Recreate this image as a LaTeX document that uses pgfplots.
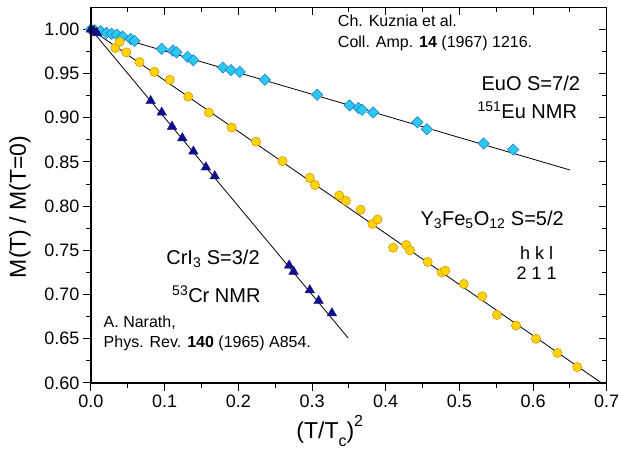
\documentclass[border=0pt]{standalone}
\usepackage{fontspec}
\setmainfont{Liberation Sans}
\usepackage{pgfplots}
\pgfplotsset{compat=1.18}
\definecolor{cyanfill}{RGB}{45,200,240}
\definecolor{cyanedge}{RGB}{20,120,200}
\definecolor{goldfill}{RGB}{255,212,0}
\definecolor{goldedge}{RGB}{215,140,0}
\definecolor{navyfill}{RGB}{15,15,135}
\newcommand{\tickfont}{\fontsize{18}{18}\selectfont}
\newcommand{\bigfont}{\fontsize{20}{20}\selectfont}
\newcommand{\reffont}{\fontsize{16}{16}\selectfont}
\newcommand{\labfont}{\fontsize{23}{23}\selectfont}
\begin{document}
\begin{tikzpicture}
\pgfplotsset{common/.style={
  width=515.7pt, height=375.7pt, scale only axis,
  xmin=0, xmax=0.7, ymin=0.6, ymax=1.025,
  xtick={0,0.1,0.2,0.3,0.4,0.5,0.6,0.7},
  ytick={0.6,0.65,0.7,0.75,0.8,0.85,0.9,0.95,1.0},
  minor x tick num=1, minor y tick num=1,
  major tick length=8pt, minor tick length=5pt,
  axis line style={line width=1.2pt},
  every tick/.style={black, line width=1pt},
  clip=false,
}}
\begin{axis}[common,
  xtick pos=bottom, ytick pos=left, tick align=outside,
  tick label style={font=\tickfont},
  /pgf/number format/assume math mode=true,
  xticklabel style={/pgf/number format/.cd, fixed, fixed zerofill, precision=1},
  yticklabel style={/pgf/number format/.cd, fixed, fixed zerofill, precision=2},
  xlabel={(T/T\raisebox{-0.35em}{\fontsize{16}{16}\selectfont c})\raisebox{0.55em}{\fontsize{16}{16}\selectfont 2}},
  ylabel={M(T) / M(T=0)},
  every axis x label/.style={at={(axis description cs:0.463,-0.128)}, anchor=center, font=\labfont},
  every axis y label/.style={at={(axis description cs:-0.138,0.469)}, anchor=center, rotate=90, font=\labfont},
]
% fitted lines
\addplot[black, line width=0.8pt] coordinates {(0,1.0) (0.65,0.841)};
\addplot[black, line width=0.8pt] coordinates {(0,1.0) (0.693,0.60)};
\addplot[black, line width=0.8pt] coordinates {(0,1.0) (0.349,0.651)};
% EuO
\addplot[only marks, mark=square*, mark size=4.0pt, mark options={rotate=45, fill=cyanfill, draw=cyanedge, line width=0.5pt}] coordinates {
(0.000,1.000) (0.005,0.999) (0.013,0.998) (0.021,0.996) (0.028,0.995) (0.035,0.994)
(0.043,0.992) (0.054,0.989) (0.059,0.987) (0.096,0.978) (0.111,0.976) (0.116,0.974)
(0.131,0.969) (0.139,0.965) (0.179,0.957) (0.190,0.954) (0.202,0.952) (0.236,0.943)
(0.307,0.926) (0.351,0.914) (0.363,0.911) (0.368,0.909) (0.383,0.906) (0.443,0.895)
(0.456,0.887) (0.533,0.871) (0.573,0.864)};
% YIG
\addplot[only marks, mark=*, mark size=4.6pt, mark options={fill=goldfill, draw=goldedge, line width=0.5pt}] coordinates {
(0.004,0.998) (0.033,0.979) (0.039,0.986) (0.048,0.974) (0.066,0.963) (0.086,0.952)
(0.107,0.943) (0.132,0.924) (0.160,0.906) (0.191,0.889) (0.224,0.873) (0.260,0.851)
(0.297,0.832) (0.304,0.824) (0.337,0.812) (0.346,0.806) (0.366,0.796) (0.382,0.780)
(0.389,0.785) (0.410,0.753) (0.428,0.756) (0.433,0.750) (0.457,0.737) (0.476,0.725)
(0.481,0.727) (0.506,0.712) (0.531,0.698) (0.551,0.677) (0.577,0.665) (0.604,0.650)
(0.633,0.634) (0.660,0.618)};
% CrI3
\addplot[only marks, mark=triangle*, mark size=5.5pt, mark options={fill=navyfill, draw=navyfill, line width=0.4pt}] coordinates {
(0.000,1.000) (0.004,0.998) (0.008,0.996) (0.081,0.919) (0.096,0.906) (0.110,0.890)
(0.124,0.877) (0.139,0.862) (0.156,0.844) (0.168,0.834) (0.269,0.733) (0.275,0.726)
(0.297,0.705) (0.309,0.693) (0.327,0.679)};
% annotations
\node[anchor=mid west, font=\reffont, inner sep=0pt] at (axis cs:0.335,1.006) {Ch. Kuznia et al.};
\node[anchor=mid west, font=\reffont, inner sep=0pt] at (axis cs:0.335,0.983) {Coll. Amp. \textbf{14} (1967) 1216.};
\node[anchor=mid east, font=\bigfont, inner sep=0pt] at (axis cs:0.664,0.934) {EuO S=7/2};
\node[anchor=mid east, font=\bigfont, inner sep=0pt] at (axis cs:0.660,0.902) {\textsuperscript{151}Eu NMR};
\node[anchor=mid west, font=\bigfont, inner sep=0pt] at (axis cs:0.447,0.781) {Y\textsubscript{3}Fe\textsubscript{5}O\textsubscript{12} S=5/2};
\node[anchor=center, font=\tickfont, inner sep=0pt] at (axis cs:0.605,0.747) {h k l};
\node[anchor=center, font=\tickfont, inner sep=0pt] at (axis cs:0.605,0.724) {2 1 1};
\node[anchor=mid west, font=\bigfont, inner sep=0pt] at (axis cs:0.102,0.737) {CrI\textsubscript{3} S=3/2};
\node[anchor=mid west, font=\bigfont, inner sep=0pt] at (axis cs:0.110,0.694) {\textsuperscript{53}Cr NMR};
\node[anchor=mid west, font=\reffont, inner sep=0pt] at (axis cs:0.017,0.666) {A. Narath,};
\node[anchor=mid west, font=\reffont, inner sep=0pt] at (axis cs:0.017,0.643) {Phys. Rev. \textbf{140} (1965) A854.};
\end{axis}
\begin{axis}[common,
  xtick pos=top, ytick pos=right, tick align=inside,
  xticklabels={}, yticklabels={},
]
\end{axis}
\pgfresetboundingbox
\path (-91pt,-69pt) rectangle (528pt,383pt);
\end{tikzpicture}
\end{document}
